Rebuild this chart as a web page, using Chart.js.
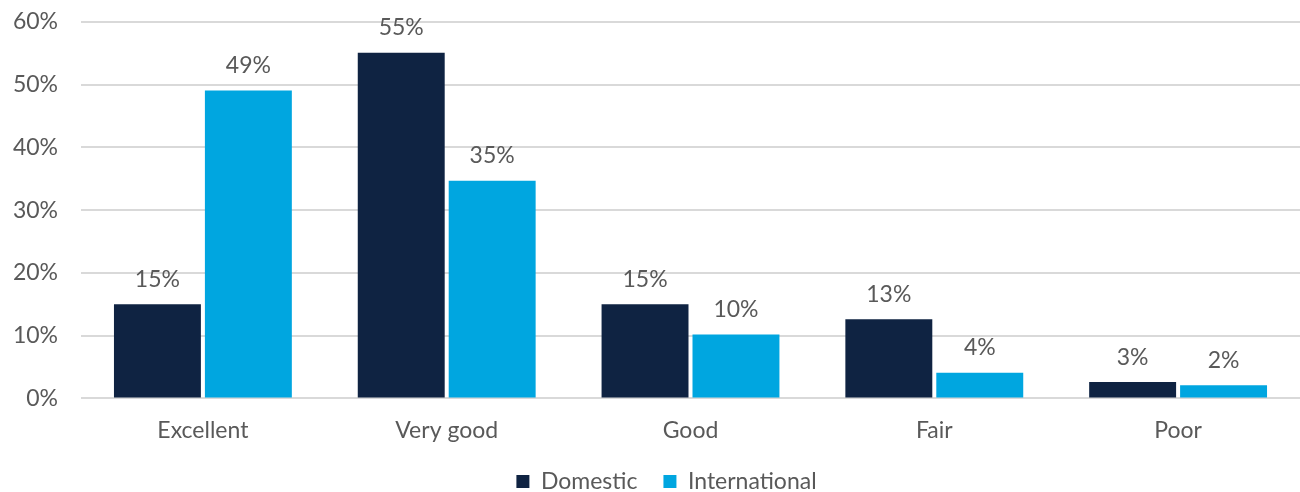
<!DOCTYPE html>
<html>
<head>
<meta charset="utf-8">
<script src="https://cdn.jsdelivr.net/npm/chart.js@4.4.1/dist/chart.umd.min.js"></script>
<style>
  html, body { margin: 0; padding: 0; background: #ffffff; }
  #wrap { width: 1300px; height: 492px; }
</style>
</head>
<body>
<div id="wrap"><canvas id="chart" width="1300" height="492"></canvas></div>
<script>
// Rating categories and share of respondents (%)
const categories = ['Excellent', 'Very good', 'Good', 'Fair', 'Poor'];
const domestic = [15.0, 55.1, 15.0, 12.6, 2.6];
const international = [49.1, 34.7, 10.2, 4.1, 2.1];
const yTicks = [0, 10, 20, 30, 40, 50, 60];

const textColor = '#595959';
const fontFamily = 'Lato, "Open Sans", sans-serif';
const baseFont = { family: fontFamily, size: 23, weight: 400 };

// Draws the rounded percentage above each bar
const valueLabels = {
  id: 'valueLabels',
  afterDatasetsDraw(chart) {
    const ctx = chart.ctx;
    ctx.save();
    ctx.font = '400 23px ' + fontFamily;
    ctx.fillStyle = textColor;
    ctx.textAlign = 'center';
    ctx.textBaseline = 'middle';
    chart.data.datasets.forEach((ds, i) => {
      chart.getDatasetMeta(i).data.forEach((bar, j) => {
        ctx.fillText(Math.round(ds.data[j]) + '%', bar.x, bar.y - 25);
      });
    });
    ctx.restore();
  }
};

// Centres the legend under the plot area rather than the whole canvas
const legendShift = {
  id: 'legendShift',
  afterLayout(chart) {
    const lg = chart.legend;
    if (!lg) return;
    const dx = (chart.chartArea.left + chart.chartArea.right) / 2 - (lg.left + lg.right) / 2 - 24;
    lg.left += dx;
    lg.right += dx;
  }
};

new Chart(document.getElementById('chart'), {
  type: 'bar',
  data: {
    labels: categories,
    datasets: [
      { label: 'Domestic', data: domestic, backgroundColor: '#0f2342' },
      { label: 'International', data: international, backgroundColor: '#00a6e0' }
    ]
  },
  options: {
    responsive: false,
    animation: false,
    layout: { padding: { top: 22, right: 0, bottom: -11, left: 0 } },
    datasets: { bar: { categoryPercentage: 0.746, barPercentage: 0.956 } },
    scales: {
      x: {
        grid: { display: false, drawTicks: false },
        border: { display: false },
        ticks: { color: textColor, font: baseFont, padding: 18 },
        afterFit(axis) { axis.height -= 18; }
      },
      y: {
        min: 0,
        max: 60,
        afterBuildTicks(axis) { axis.ticks = yTicks.map(v => ({ value: v })); },
        afterFit(axis) {
          axis.width = 81;
          axis.paddingTop = 0;
          axis.paddingBottom = 0;
        },
        grid: { color: '#d9d9d9', lineWidth: 2, drawTicks: false },
        border: { display: false },
        ticks: {
          color: textColor,
          font: baseFont,
          padding: 23,
          callback: v => v + '%'
        }
      }
    },
    plugins: {
      legend: {
        position: 'bottom',
        labels: {
          color: textColor,
          font: baseFont,
          boxWidth: 13,
          boxHeight: 13,
          padding: 26
        }
      },
      tooltip: { enabled: false }
    }
  },
  plugins: [valueLabels, legendShift]
});
</script>
</body>
</html>
